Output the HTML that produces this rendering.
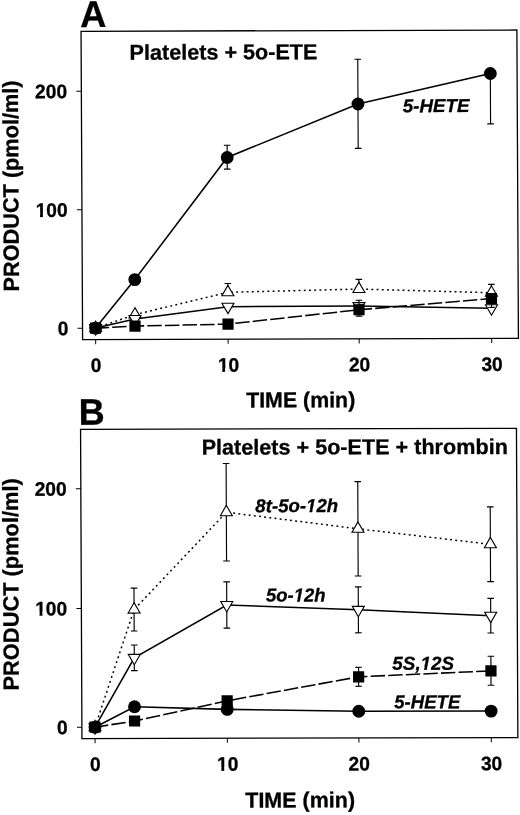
<!DOCTYPE html>
<html lang="en"><head><meta charset="utf-8"><title>Figure</title>
<style>html,body{margin:0;padding:0;background:#fff}svg{display:block}text{font-family:'Liberation Sans', sans-serif;font-weight:bold;fill:#000;stroke:#000;stroke-width:0.3px;text-rendering:geometricPrecision}</style>
</head><body>
<svg width="520" height="815" viewBox="0 0 520 815">
<rect width="520" height="815" fill="#fff"/>
<g transform="matrix(1 -0.0029 0.005 1 -1.64 0.28)">
<rect x="82.53" y="31.24" width="435.84" height="308.33" fill="none" stroke="#000" stroke-width="1.3"/>
<path d="M77.53 91.1H82.53M77.53 209.75H82.53M77.53 328.1H82.53M95.6 339.57V344.17M228.05 339.57V344.17M359.1 339.57V344.17M491.6 339.57V344.17" fill="none" stroke="#000" stroke-width="1"/>
<text x="68.3" y="98.1" font-size="19.6" text-anchor="end" textLength="32.05" lengthAdjust="spacingAndGlyphs">200</text>
<clipPath id="k1"><path clip-rule="evenodd" d="M32.25 188.75h40.05v40h-40.05zM35.25 213.15H40.64V217.75H35.25zM43.47 213.15H47.01V217.75H43.47z"/></clipPath><g clip-path="url(#k1)"><text x="68.3" y="216.75" font-size="19.6" text-anchor="end" textLength="32.05" lengthAdjust="spacingAndGlyphs">100</text></g>
<text x="68.3" y="335.1" font-size="19.6" text-anchor="end" textLength="10.68" lengthAdjust="spacingAndGlyphs">0</text>
<text x="95.9" y="372.05" font-size="19.6" text-anchor="middle" textLength="10.68" lengthAdjust="spacingAndGlyphs">0</text>
<clipPath id="k2"><path clip-rule="evenodd" d="M213.67 344.05h29.37v40h-29.37zM216.67 368.45H222.05V373.05H216.67zM224.89 368.45H228.42V373.05H224.89z"/></clipPath><g clip-path="url(#k2)"><text x="228.35" y="372.05" font-size="19.6" text-anchor="middle" textLength="21.37" lengthAdjust="spacingAndGlyphs">10</text></g>
<text x="359.4" y="372.05" font-size="19.6" text-anchor="middle" textLength="21.37" lengthAdjust="spacingAndGlyphs">20</text>
<text x="491.9" y="372.05" font-size="19.6" text-anchor="middle" textLength="21.37" lengthAdjust="spacingAndGlyphs">30</text>
<text x="81.75" y="27.06" font-size="37.3" textLength="26.14" lengthAdjust="spacingAndGlyphs">A</text>
<text x="130.88" y="59.81" font-size="21.5" textLength="187.93" lengthAdjust="spacingAndGlyphs">Platelets + 5o-ETE</text>
<text x="403.89" y="113.09" font-size="18.7" font-style="italic" textLength="66.74" lengthAdjust="spacingAndGlyphs">5-HETE</text>
<text x="245.74" y="407.84" font-size="21.6" textLength="109.14" lengthAdjust="spacingAndGlyphs">TIME (min)</text>
<text x="0" y="0" font-size="22" textLength="211.03" lengthAdjust="spacingAndGlyphs" transform="translate(19.19 291.24) rotate(-90)">PRODUCT (pmol/ml)</text>
<path d="M95.6 328.1L135.05 279.7L228.05 157.85L359.1 104.7L491.6 74.6" fill="none" stroke="#000" stroke-width="1.55"/>
<path d="M95.6 328.1L135.05 314.7L228.05 292.7L359.1 289.8L491.6 293.9" fill="none" stroke="#000" stroke-width="1.5" stroke-dasharray="1.9 3.3"/>
<path d="M95.6 328.1L135.05 319.1L228.05 307.1L359.1 306.8L491.6 309.4" fill="none" stroke="#000" stroke-width="1.55"/>
<path d="M95.6 328.1L135.05 326.2L228.05 324.5L359.1 310.5L491.6 299.7" fill="none" stroke="#000" stroke-width="1.55" stroke-dasharray="14.4 3.2" stroke-dashoffset="1"/>
<path d="M228.05 145.6V169.5M224.75 145.6H231.35M224.75 169.5H231.35" fill="none" stroke="#000" stroke-width="1.15"/>
<path d="M359.1 60V149.2M355.8 60H362.4M355.8 149.2H362.4" fill="none" stroke="#000" stroke-width="1.15"/>
<path d="M491.6 74.15V125.05M488.3 125.05H494.9" fill="none" stroke="#000" stroke-width="1.15"/>
<circle cx="95.6" cy="328.1" r="6.45" fill="#000"/>
<circle cx="135.05" cy="279.7" r="6.45" fill="#000"/>
<circle cx="228.05" cy="157.85" r="6.45" fill="#000"/>
<circle cx="359.1" cy="104.7" r="6.45" fill="#000"/>
<circle cx="491.6" cy="74.6" r="6.45" fill="#000"/>
<path d="M228.05 283.9V292.7M224.75 283.9H231.35" fill="none" stroke="#000" stroke-width="1.15"/>
<path d="M359.1 280.1V289.8M355.8 280.1H362.4" fill="none" stroke="#000" stroke-width="1.15"/>
<path d="M491.6 285.55V293.9M488.3 285.55H494.9" fill="none" stroke="#000" stroke-width="1.15"/>
<path d="M95.6 321.17L89.6 331.56L101.6 331.56Z" fill="#fff" stroke="#000" stroke-width="1.1"/>
<path d="M135.05 307.77L129.05 318.16L141.05 318.16Z" fill="#fff" stroke="#000" stroke-width="1.1"/>
<path d="M228.05 285.77L222.05 296.16L234.05 296.16Z" fill="#fff" stroke="#000" stroke-width="1.1"/>
<path d="M359.1 282.87L353.1 293.26L365.1 293.26Z" fill="#fff" stroke="#000" stroke-width="1.1"/>
<path d="M491.6 286.97L485.6 297.36L497.6 297.36Z" fill="#fff" stroke="#000" stroke-width="1.1"/>
<path d="M95.6 335.03L89.6 324.64L101.6 324.64Z" fill="#fff" stroke="#000" stroke-width="1.1"/>
<path d="M135.05 326.03L129.05 315.64L141.05 315.64Z" fill="#fff" stroke="#000" stroke-width="1.1"/>
<path d="M228.05 314.03L222.05 303.64L234.05 303.64Z" fill="#fff" stroke="#000" stroke-width="1.1"/>
<path d="M359.1 313.73L353.1 303.34L365.1 303.34Z" fill="#fff" stroke="#000" stroke-width="1.1"/>
<path d="M491.6 316.33L485.6 305.94L497.6 305.94Z" fill="#fff" stroke="#000" stroke-width="1.1"/>
<path d="M359.1 301V316.9M355.8 301H362.4M355.8 316.9H362.4" fill="none" stroke="#000" stroke-width="1.15"/>
<path d="M491.6 299.7V308.6M488.3 308.6H494.9" fill="none" stroke="#000" stroke-width="1.15"/>
<rect x="90" y="322.5" width="11.2" height="11.2" fill="#000"/>
<rect x="129.45" y="320.6" width="11.2" height="11.2" fill="#000"/>
<rect x="222.45" y="318.9" width="11.2" height="11.2" fill="#000"/>
<rect x="353.5" y="304.9" width="11.2" height="11.2" fill="#000"/>
<rect x="486" y="294.1" width="11.2" height="11.2" fill="#000"/>
</g>
<g transform="matrix(1 -0.0023 0.0045 1 -3.27 0.22)">
<rect x="81.9" y="429.27" width="435.9" height="309.3" fill="none" stroke="#000" stroke-width="1.3"/>
<path d="M76.9 488.65H81.9M76.9 608.35H81.9M76.9 727.25H81.9M95 738.57V743.17M227.3 738.57V743.17M358.85 738.57V743.17M491.2 738.57V743.17" fill="none" stroke="#000" stroke-width="1"/>
<text x="67.75" y="495.65" font-size="19.6" text-anchor="end" textLength="32.05" lengthAdjust="spacingAndGlyphs">200</text>
<clipPath id="k3"><path clip-rule="evenodd" d="M31.7 587.35h40.05v40h-40.05zM34.7 611.75H40.09V616.35H34.7zM42.92 611.75H46.46V616.35H42.92z"/></clipPath><g clip-path="url(#k3)"><text x="67.75" y="615.35" font-size="19.6" text-anchor="end" textLength="32.05" lengthAdjust="spacingAndGlyphs">100</text></g>
<text x="67.75" y="734.25" font-size="19.6" text-anchor="end" textLength="10.68" lengthAdjust="spacingAndGlyphs">0</text>
<text x="95.2" y="771.05" font-size="19.6" text-anchor="middle" textLength="10.68" lengthAdjust="spacingAndGlyphs">0</text>
<clipPath id="k4"><path clip-rule="evenodd" d="M212.82 743.05h29.37v40h-29.37zM215.82 767.45H221.2V772.05H215.82zM224.04 767.45H227.57V772.05H224.04z"/></clipPath><g clip-path="url(#k4)"><text x="227.5" y="771.05" font-size="19.6" text-anchor="middle" textLength="21.37" lengthAdjust="spacingAndGlyphs">10</text></g>
<text x="359.05" y="771.05" font-size="19.6" text-anchor="middle" textLength="21.37" lengthAdjust="spacingAndGlyphs">20</text>
<text x="491.4" y="771.05" font-size="19.6" text-anchor="middle" textLength="21.37" lengthAdjust="spacingAndGlyphs">30</text>
<text x="80.08" y="424.67" font-size="37.1" textLength="25.99" lengthAdjust="spacingAndGlyphs">B</text>
<text x="202.87" y="454.85" font-size="21.5" textLength="306.21" lengthAdjust="spacingAndGlyphs">Platelets + 5o-ETE + thrombin</text>
<clipPath id="k5"><path clip-rule="evenodd" d="M252.33 484.57h90.83v40h-90.83zM306.42 513.48L310.24 513.48L310.99 509.56L307.15 509.56zM313.01 513.48L317.11 513.48L317.11 509.56L313.77 509.56z"/></clipPath><g clip-path="url(#k5)"><text x="256.33" y="512.57" font-size="18.7" font-style="italic" textLength="82.83" lengthAdjust="spacingAndGlyphs">8t-5o-12h</text></g>
<clipPath id="k6"><path clip-rule="evenodd" d="M262.58 573.9h67.58v40h-67.58zM293.68 602.81L297.47 602.81L298.21 598.88L294.4 598.88zM300.22 602.81L304.28 602.81L304.28 598.88L300.97 598.88z"/></clipPath><g clip-path="url(#k6)"><text x="266.58" y="601.9" font-size="18.7" font-style="italic" textLength="59.58" lengthAdjust="spacingAndGlyphs">5o-12h</text></g>
<clipPath id="k7"><path clip-rule="evenodd" d="M388.57 642.48h69.88v40h-69.88zM420.24 671.4L424.11 671.4L424.86 667.47L420.97 667.47zM426.92 671.4L431.06 671.4L431.06 667.47L427.68 667.47z"/></clipPath><g clip-path="url(#k7)"><text x="392.57" y="670.48" font-size="18.7" font-style="italic" textLength="61.88" lengthAdjust="spacingAndGlyphs">5S,12S</text></g>
<text x="394.3" y="708.99" font-size="18.7" font-style="italic" textLength="66.14" lengthAdjust="spacingAndGlyphs">5-HETE</text>
<text x="244.92" y="807.85" font-size="21.6" textLength="109.8" lengthAdjust="spacingAndGlyphs">TIME (min)</text>
<text x="0" y="0" font-size="22" textLength="212.35" lengthAdjust="spacingAndGlyphs" transform="translate(19.02 690.3) rotate(-90)">PRODUCT (pmol/ml)</text>
<path d="M95 727.2L134.6 706.8L227.3 709.7L358.85 711.9L491.2 712" fill="none" stroke="#000" stroke-width="1.55"/>
<path d="M95 727.2L134.6 609.7L227.3 512.55L358.85 529.4L491.2 545.2" fill="none" stroke="#000" stroke-width="1.5" stroke-dasharray="1.9 3.3"/>
<path d="M95 727.2L134.6 657.9L227.3 605.3L358.85 610.4L491.2 616.6" fill="none" stroke="#000" stroke-width="1.55"/>
<path d="M95 727.2L134.6 721.1L227.3 701.1L358.85 677.4L491.2 671.8" fill="none" stroke="#000" stroke-width="1.55" stroke-dasharray="14.4 3.2" stroke-dashoffset="1"/>
<circle cx="95" cy="727.2" r="6.45" fill="#000"/>
<circle cx="134.6" cy="706.8" r="6.45" fill="#000"/>
<circle cx="227.3" cy="709.7" r="6.45" fill="#000"/>
<circle cx="358.85" cy="711.9" r="6.45" fill="#000"/>
<circle cx="491.2" cy="712" r="6.45" fill="#000"/>
<path d="M134.6 588.2V631.1M131.3 588.2H137.9M131.3 631.1H137.9" fill="none" stroke="#000" stroke-width="1.15"/>
<path d="M227.3 463.8V561.3M224 463.8H230.6M224 561.3H230.6" fill="none" stroke="#000" stroke-width="1.15"/>
<path d="M358.85 482.2V576.6M355.55 482.2H362.15M355.55 576.6H362.15" fill="none" stroke="#000" stroke-width="1.15"/>
<path d="M491.2 507.8V582.5M487.9 507.8H494.5M487.9 582.5H494.5" fill="none" stroke="#000" stroke-width="1.15"/>
<path d="M95 720.27L89 730.66L101 730.66Z" fill="#fff" stroke="#000" stroke-width="1.1"/>
<path d="M134.6 602.77L128.6 613.16L140.6 613.16Z" fill="#fff" stroke="#000" stroke-width="1.1"/>
<path d="M227.3 505.62L221.3 516.01L233.3 516.01Z" fill="#fff" stroke="#000" stroke-width="1.1"/>
<path d="M358.85 522.47L352.85 532.86L364.85 532.86Z" fill="#fff" stroke="#000" stroke-width="1.1"/>
<path d="M491.2 538.27L485.2 548.66L497.2 548.66Z" fill="#fff" stroke="#000" stroke-width="1.1"/>
<path d="M134.6 645.1V670.7M131.3 645.1H137.9M131.3 670.7H137.9" fill="none" stroke="#000" stroke-width="1.15"/>
<path d="M227.3 582.2V628.4M224 582.2H230.6M224 628.4H230.6" fill="none" stroke="#000" stroke-width="1.15"/>
<path d="M358.85 587.5V633.4M355.55 587.5H362.15M355.55 633.4H362.15" fill="none" stroke="#000" stroke-width="1.15"/>
<path d="M491.2 599.3V633.9M487.9 599.3H494.5M487.9 633.9H494.5" fill="none" stroke="#000" stroke-width="1.15"/>
<path d="M95 734.13L89 723.74L101 723.74Z" fill="#fff" stroke="#000" stroke-width="1.1"/>
<path d="M134.6 664.83L128.6 654.44L140.6 654.44Z" fill="#fff" stroke="#000" stroke-width="1.1"/>
<path d="M227.3 612.23L221.3 601.84L233.3 601.84Z" fill="#fff" stroke="#000" stroke-width="1.1"/>
<path d="M358.85 617.33L352.85 606.94L364.85 606.94Z" fill="#fff" stroke="#000" stroke-width="1.1"/>
<path d="M491.2 623.53L485.2 613.14L497.2 613.14Z" fill="#fff" stroke="#000" stroke-width="1.1"/>
<path d="M358.85 667.9V686.9M355.55 667.9H362.15M355.55 686.9H362.15" fill="none" stroke="#000" stroke-width="1.15"/>
<path d="M491.2 657.2V686.2M487.9 657.2H494.5M487.9 686.2H494.5" fill="none" stroke="#000" stroke-width="1.15"/>
<rect x="89.4" y="721.6" width="11.2" height="11.2" fill="#000"/>
<rect x="129" y="715.5" width="11.2" height="11.2" fill="#000"/>
<rect x="221.7" y="695.5" width="11.2" height="11.2" fill="#000"/>
<rect x="353.25" y="671.8" width="11.2" height="11.2" fill="#000"/>
<rect x="485.6" y="666.2" width="11.2" height="11.2" fill="#000"/>
</g>
</svg></body></html>
